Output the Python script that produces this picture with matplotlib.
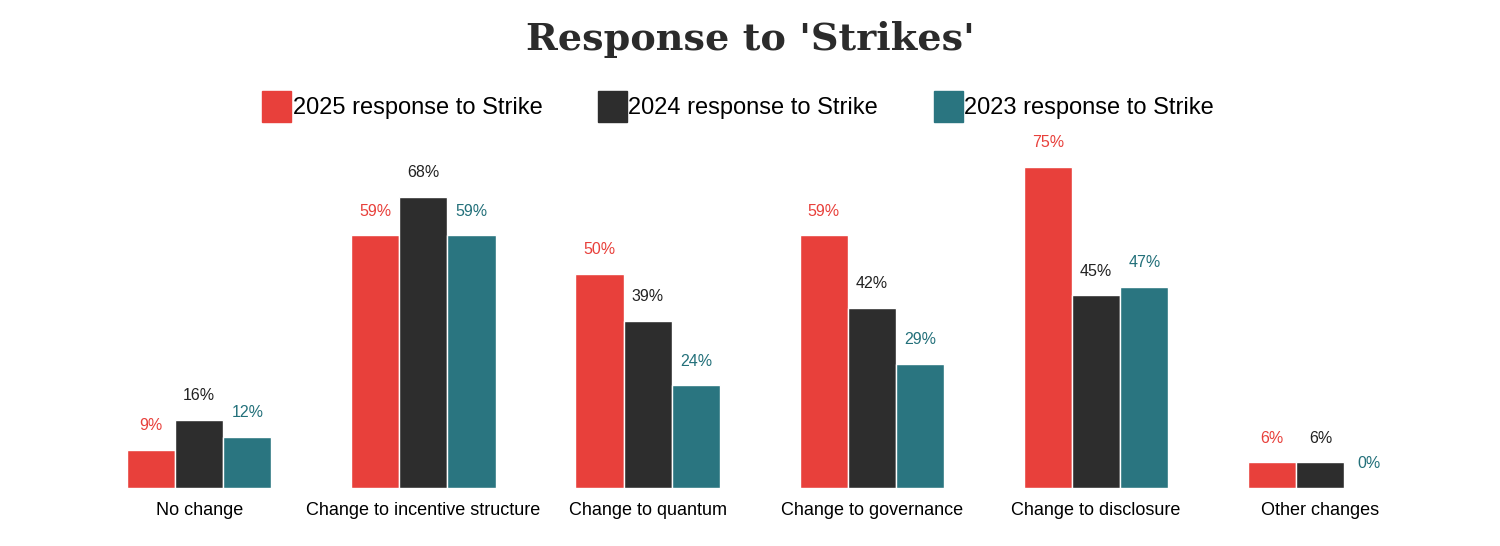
import matplotlib.pyplot as plt
import matplotlib.patches as mpatches
import numpy as np

categories = ['No change', 'Change to incentive structure', 'Change to quantum',
              'Change to governance', 'Change to disclosure', 'Other changes']
series_names = ['2025 response to Strike', '2024 response to Strike', '2023 response to Strike']
values_2025 = [9, 59, 50, 59, 75, 6]
values_2024 = [16, 68, 39, 42, 45, 6]
values_2023 = [12, 59, 24, 29, 47, 0]

bar_colors = ['#E8403B', '#2D2D2D', '#2A7580']
label_colors = ['#E8403B', '#222222', '#23707A']

plt.rcParams['font.family'] = ['Liberation Sans', 'DejaVu Sans']

fig = plt.figure(figsize=(15, 5.46), dpi=100)
ax = fig.add_axes([0.058, 0.106, 0.897, 0.628])

x = np.arange(len(categories))
w = 0.215
all_vals = [values_2025, values_2024, values_2023]
for i, vals in enumerate(all_vals):
    pos = x + (i - 1) * w
    ax.bar(pos, vals, width=w, color=bar_colors[i], edgecolor='white', linewidth=1)
    for p, v in zip(pos, vals):
        ax.annotate(f'{v}%', (p, v), xytext=(0, 12), textcoords='offset points',
                    ha='center', va='bottom', fontsize=11.5, color=label_colors[i])

ax.set_xlim(-0.5, len(categories) - 0.5)
ax.set_ylim(0, 80)
ax.set_xticks(x)
ax.set_xticklabels(categories, fontsize=13)
ax.tick_params(axis='x', length=0, pad=10)
ax.set_yticks([])
for s in ax.spines.values():
    s.set_visible(False)

fig.text(0.5, 0.927, "Response to 'Strikes'", ha='center', va='center',
         fontsize=27.5, fontweight='bold', family=['DejaVu Serif'], color='#2B2B2B')

handles = [mpatches.Patch(color=c, label=n) for c, n in zip(bar_colors, series_names)]
fig.legend(handles=handles, loc='center', bbox_to_anchor=(0.492, 0.805), ncol=3,
           frameon=False, fontsize=17, handlelength=1.25, handleheight=1.6,
           handletextpad=0.05, columnspacing=2.35)

fig.savefig('out.png', dpi=100)
